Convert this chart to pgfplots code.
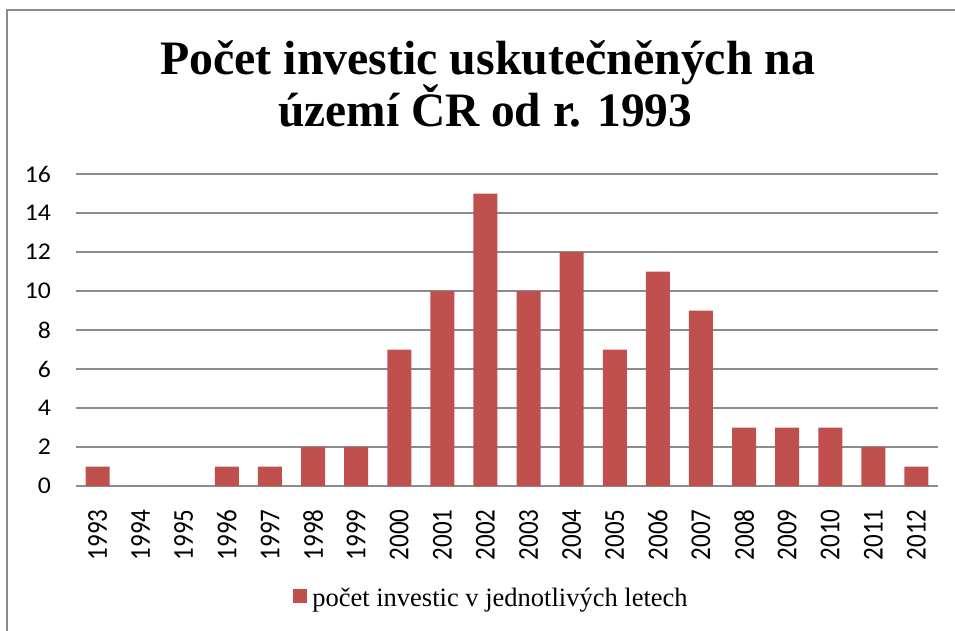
\documentclass[border=0pt]{standalone}
\usepackage{pgfplots}
\pgfplotsset{compat=1.18}
\usepackage{fontspec}
\setmainfont{Liberation Serif}
\newfontfamily\calib{Carlito}
\definecolor{barred}{HTML}{C0504D}
\definecolor{gridgray}{HTML}{8C8C8C}
\newcommand{\xl}[1]{\scalebox{1}[1.15]{#1}}
\newcommand{\yl}[1]{\scalebox{1.07}[1]{#1}}
\begin{document}
\begin{tikzpicture}[x=1pt,y=1pt]
\useasboundingbox (0,0) rectangle (955,630);
\draw[gridgray, line width=1.2pt] (7,-5) -- (7,620) -- (960,620);
\node[anchor=base west, inner sep=0pt] at (160,555) {\resizebox{655pt}{\height}{\fontsize{48}{52}\selectfont\bfseries Počet investic uskutečněných na}};
\node[anchor=base west, inner sep=0pt] at (278,503) {\resizebox{414pt}{\height}{\fontsize{48}{52}\selectfont\bfseries území ČR od r. 1993}};
\begin{axis}[
  at={(76pt,144pt)}, anchor=south west,
  scale only axis, width=862pt, height=312pt,
  xmin=-0.5, xmax=19.5, ymin=0, ymax=16,
  ytick={0,2,...,16},
  yticklabels={\yl{0},\yl{2},\yl{4},\yl{6},\yl{8},\yl{10},\yl{12},\yl{14},\yl{16}},
  xtick={0,...,19},
  xticklabels={\xl{1993},\xl{1994},\xl{1995},\xl{1996},\xl{1997},\xl{1998},\xl{1999},\xl{2000},\xl{2001},\xl{2002},\xl{2003},\xl{2004},\xl{2005},\xl{2006},\xl{2007},\xl{2008},\xl{2009},\xl{2010},\xl{2011},\xl{2012}},
  axis line style={draw=none},
  tick style={draw=none},
  ymajorgrids, grid style={gridgray, line width=1.2pt},
  yticklabel style={font=\calib\fontsize{24}{28}\selectfont, anchor=east, inner sep=0pt, xshift=-25pt},
  xticklabel style={font=\calib\fontsize{25}{28}\selectfont, yshift=-19pt, rotate=90, anchor=east, inner sep=0pt},
  ybar, bar width=24pt,
  legend style={at={(0.482,-0.359)}, anchor=center, draw=none, font=\fontsize{26.5}{28}\selectfont, inner sep=0pt,
    legend cell align=left, /tikz/every even column/.append style={column sep=0pt}},
  legend image code/.code={\fill[barred] (0pt,-5pt) rectangle (14pt,9pt);},
]
\addplot[fill=barred, draw=none] coordinates {
(0,1) (1,0) (2,0) (3,1) (4,1) (5,2) (6,2) (7,7) (8,10) (9,15)
(10,10) (11,12) (12,7) (13,11) (14,9) (15,3) (16,3) (17,3) (18,2) (19,1)};
\addlegendentry{\hspace{3pt}počet investic v jednotlivých letech}
\end{axis}
\end{tikzpicture}
\end{document}
